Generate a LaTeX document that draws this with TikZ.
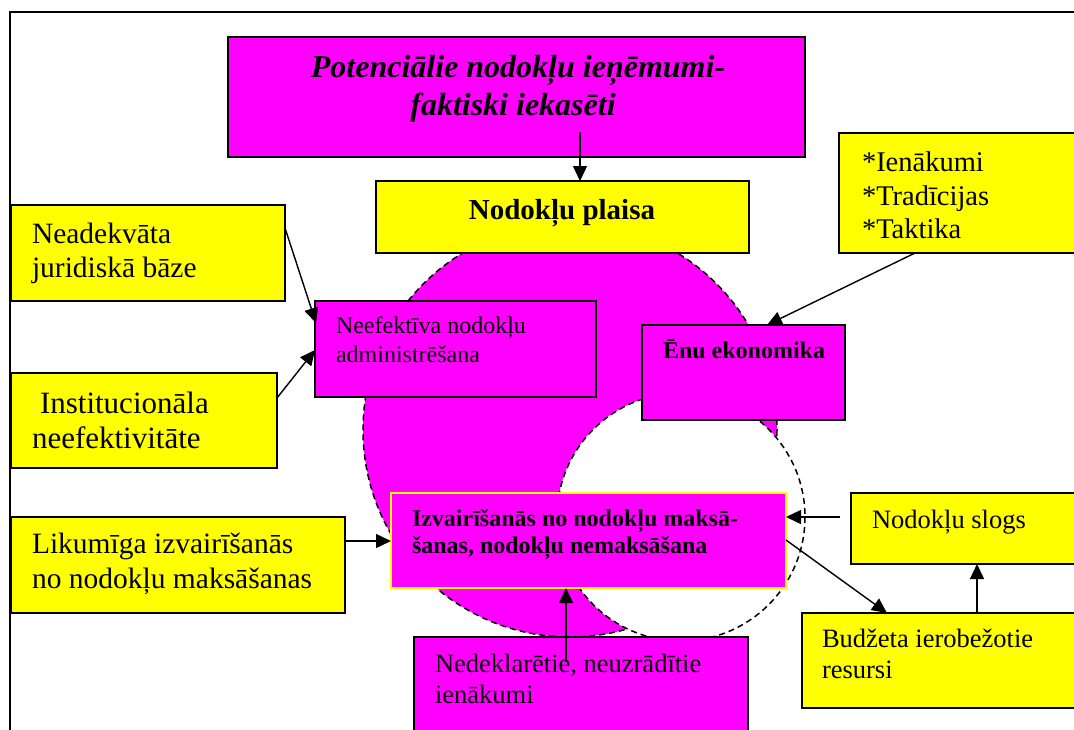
\documentclass[tikz,border=0pt]{standalone}
\usepackage{fontspec}
\setmainfont{Liberation Serif}
\usetikzlibrary{arrows.meta,calc}
\definecolor{mag}{RGB}{255,0,255}
\definecolor{yel}{RGB}{255,255,0}
% font size in pt, line spacing equal to it
\newcommand\tsz[1]{\fontsize{#1pt}{#1pt}\selectfont}
% box node: style, left, top, right, bottom, name
\newcommand\mkbox[6]{\node[#1, minimum width={#4-#2}, minimum height={#5-#3}] (#6) at (#2,#3) {};}

\begin{document}
\begin{tikzpicture}[x=1pt,y=-1pt,
  frame/.style={line width=2pt},
  boxbase/.style={draw, line width=1.7pt, inner sep=0pt, outer sep=0pt, anchor=north west},
  ybox/.style={boxbase, fill=yel},
  mbox/.style={boxbase, fill=mag},
  ebox/.style={boxbase, fill=mag, draw=yel},
  txt/.style={inner sep=0pt, outer sep=0pt, anchor=base west, text=black},
  ctxt/.style={txt, anchor=base},
  conn/.style={line width=1.4pt, -{Triangle[length=15pt,width=14pt]}},
  ring/.style={line width=1.5pt, dash pattern=on 6pt off 4pt}]

\useasboundingbox (0,0) rectangle (1074,729);
\clip (0,0) rectangle (1074,729);

% outer frame (left and top sides)
\coordinate (fbl) at (10,745);
\coordinate (ftl) at (10,12);
\coordinate (ftr) at (1085,12);
\draw[frame] (fbl) -- (ftl) -- (ftr);

% tax gap area and the cut-out circle
\draw[ring, fill=mag] (570,430) circle[radius=207];
\draw[ring, fill=white] (681,517) circle[radius=124];

% boxes
\mkbox{mbox}{228}{37}{805}{157}{top}
\mkbox{ybox}{376}{181}{749}{253}{gap}
\mkbox{ybox}{839}{133}{1090}{253}{fact}
\mkbox{ybox}{11}{205}{285}{301}{legal}
\mkbox{ybox}{11}{373}{277}{468}{inst}
\mkbox{ybox}{11}{517}{345}{613}{lawful}
\mkbox{mbox}{315}{301}{596}{397}{admin}
\mkbox{mbox}{642}{325}{845}{420}{shadow}
\mkbox{ebox}{391}{493}{786}{588}{evasion}
\mkbox{mbox}{414}{637}{748}{745}{undecl}
\mkbox{ybox}{851}{493}{1090}{564}{burden}
\mkbox{ybox}{802}{613}{1090}{708}{budget}

% texts
\node[ctxt, font={\tsz{32}\bfseries\itshape}] (top1) at (518,77) {Potenciālie nodokļu ieņēmumi-};
\node[ctxt, font={\tsz{32}\bfseries\itshape}] (top2) at (513,115) {faktiski iekasēti};
\node[ctxt, font={\tsz{29}\bfseries}] (gapt) at (562,219) {Nodokļu plaisa};
\node[txt, font=\tsz{28.5}] (fact1) at (862,171) {*Ienākumi};
\node[txt, font=\tsz{28.5}] (fact2) at (862,205) {*Tradīcijas};
\node[txt, font=\tsz{28.5}] (fact3) at (862,238) {*Taktika};
\node[txt, font=\tsz{29.5}] (legal1) at (32,243) {Neadekvāta};
\node[txt, font=\tsz{29.5}] (legal2) at (32,277) {juridiskā bāze};
\node[txt, font=\tsz{31}] (inst1) at (40,413) {Institucionāla};
\node[txt, font=\tsz{31}] (inst2) at (32,448) {neefektivitāte};
\node[txt, font=\tsz{29.5}] (lawful1) at (32,553) {Likumīga izvairīšanās};
\node[txt, font=\tsz{29.5}] (lawful2) at (32,588) {no nodokļu maksāšanas};
\node[txt, font=\tsz{24}] (admin1) at (336,333) {Neefektīva nodokļu};
\node[txt, font=\tsz{24}] (admin2) at (336,362) {administrēšana};
\node[txt, font={\tsz{24}\bfseries}] (shadowt) at (663,358) {Ēnu ekonomika};
\node[txt, font={\tsz{24}\bfseries}] (evasion1) at (412,526) {Izvairīšanās no nodokļu maksā-};
\node[txt, font={\tsz{24}\bfseries}] (evasion2) at (412,553) {šanas, nodokļu nemaksāšana};
\node[txt, font=\tsz{26.5}] (undecl1) at (435,672) {Nedeklarētie, neuzrādītie};
\node[txt, font=\tsz{26.5}] (undecl2) at (435,703) {ienākumi};
\node[txt, font=\tsz{26.5}] (burdent) at (872,528) {Nodokļu slogs};
\node[txt, font=\tsz{26.5}] (budget1) at (822,647) {Budžeta ierobežotie};
\node[txt, font=\tsz{26.5}] (budget2) at (822,678) {resursi};

% connectors
\coordinate (topout) at ($(top.south west)+(352,-25)$);
\draw[conn] (topout) -- (topout |- gap.north);
\draw[conn] ($(legal.north east)+(0,23)$) -- ($(admin.north west)+(1,22)$);
\draw[conn] ($(inst.north east)+(0,25)$) -- ($(admin.north west)+(0,49)$);
\draw[conn] ($(fact.south west)+(76,0)$) -- ($(shadow.north west)+(125,0)$);
\coordinate (lawout) at ($(lawful.north east)+(0,24)$);
\draw[conn] (lawout) -- (lawout -| evasion.west);
\coordinate (undeclout) at ($(undecl.north west)+(152,25)$);
\draw[conn] (undeclout) -- (undeclout |- evasion.south);
\coordinate (burdenout) at ($(burden.north west)+(-11,24)$);
\draw[conn] (burdenout) -- (burdenout -| evasion.east);
\draw[conn] ($(evasion.north east)+(0,47)$) -- ($(budget.north west)+(85,0)$);
\coordinate (budgetout) at ($(budget.north west)+(175,0)$);
\draw[conn] (budgetout) -- (budgetout |- burden.south);
\end{tikzpicture}
\end{document}
